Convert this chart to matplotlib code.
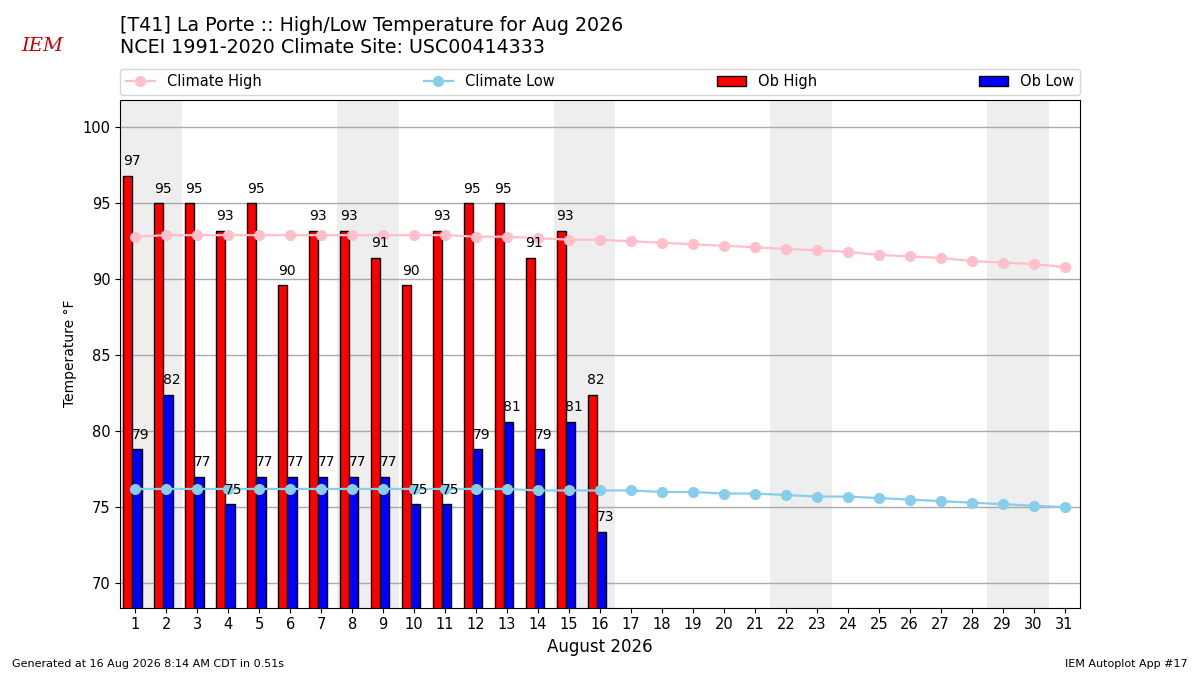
import datetime
import matplotlib
matplotlib.use("Agg")
import matplotlib.pyplot as plt
import numpy as np

days = list(range(1, 32))
ob_days = list(range(1, 17))
ob_high = [96.8, 95.0, 95.0, 93.2, 95.0, 89.6, 93.2, 93.2, 91.4, 89.6, 93.2, 95.0, 95.0, 91.4, 93.2, 82.4]
ob_low = [78.8, 82.4, 77.0, 75.2, 77.0, 77.0, 77.0, 77.0, 77.0, 75.2, 75.2, 78.8, 80.6, 78.8, 80.6, 73.4]
clim_high = [92.8, 92.9, 92.9, 92.9, 92.9, 92.9, 92.9, 92.9, 92.9, 92.9, 92.9, 92.8, 92.8, 92.7, 92.6, 92.6,
             92.5, 92.4, 92.3, 92.2, 92.1, 92.0, 91.9, 91.8, 91.6, 91.5, 91.4, 91.2, 91.1, 91.0, 90.8]
clim_low = [76.2, 76.2, 76.2, 76.2, 76.2, 76.2, 76.2, 76.2, 76.2, 76.2, 76.2, 76.2, 76.2, 76.1, 76.1, 76.1,
            76.1, 76.0, 76.0, 75.9, 75.9, 75.8, 75.7, 75.7, 75.6, 75.5, 75.4, 75.3, 75.2, 75.1, 75.0]

fig = plt.figure(figsize=(12, 6.75), dpi=100)
ax = fig.add_axes([0.1, 0.1, 0.8, 0.752])

# weekends shaded
for d in days:
    if datetime.date(2026, 8, d).weekday() >= 5:
        ax.axvspan(d - 0.5, d + 0.5, color="#EEEEEE", zorder=0, lw=0)

x = np.array(ob_days)
ax.bar(x - 0.4, ob_high, width=0.3, align="edge", color="red", edgecolor="k",
       label="Ob High", zorder=2)
ax.bar(x - 0.1, ob_low, width=0.3, align="edge", color="blue", edgecolor="k",
       label="Ob Low", zorder=2)
for d, hi, lo in zip(ob_days, ob_high, ob_low):
    ax.text(d - 0.12, hi + 0.5, f"{hi:.0f}", ha="center", va="bottom", fontsize=10, zorder=4)
    ax.text(d + 0.17, lo + 0.5, f"{lo:.0f}", ha="center", va="bottom", fontsize=10, zorder=4)

l1, = ax.plot(days, clim_high, color="pink", marker="o", ms=7, lw=1.6, label="Climate High", zorder=3)
l2, = ax.plot(days, clim_low, color="skyblue", marker="o", ms=7, lw=1.6, label="Climate Low", zorder=3)

ax.set_xlim(0.5, 31.5)
ax.set_ylim(68.4, 101.8)
ax.set_xticks(days)
ax.set_yticks(range(70, 101, 5))
ax.tick_params(labelsize=10.5)
ax.yaxis.grid(True, color="#aaaaaa", lw=1)
ax.set_axisbelow(True)
ax.set_xlabel("August 2026", fontsize=12)
ax.set_ylabel("Temperature \N{DEGREE SIGN}F")

h, l = ax.get_legend_handles_labels()
want = ["Climate High", "Climate Low", "Ob High", "Ob Low"]
hh = [h[l.index(w)] for w in want]
fig.legend(hh, want, loc="lower left",
           bbox_to_anchor=(0.1, 0.859, 0.8, 0.04), mode="expand", ncol=4,
           borderaxespad=0, fontsize=10.5)

fig.text(0.1, 0.916, "[T41] La Porte :: High/Low Temperature for Aug 2026\n"
         "NCEI 1991-2020 Climate Site: USC00414333", fontsize=13.7, va="bottom")
fig.text(0.018, 0.925, "IEM", color="#cc0000", fontsize=14, family="serif", style="italic")
fig.text(0.01, 0.012, "Generated at 16 Aug 2026 8:14 AM CDT in 0.51s", fontsize=8)
fig.text(0.99, 0.012, "IEM Autoplot App #17", fontsize=8, ha="right")

fig.savefig("out.png", dpi=100)
